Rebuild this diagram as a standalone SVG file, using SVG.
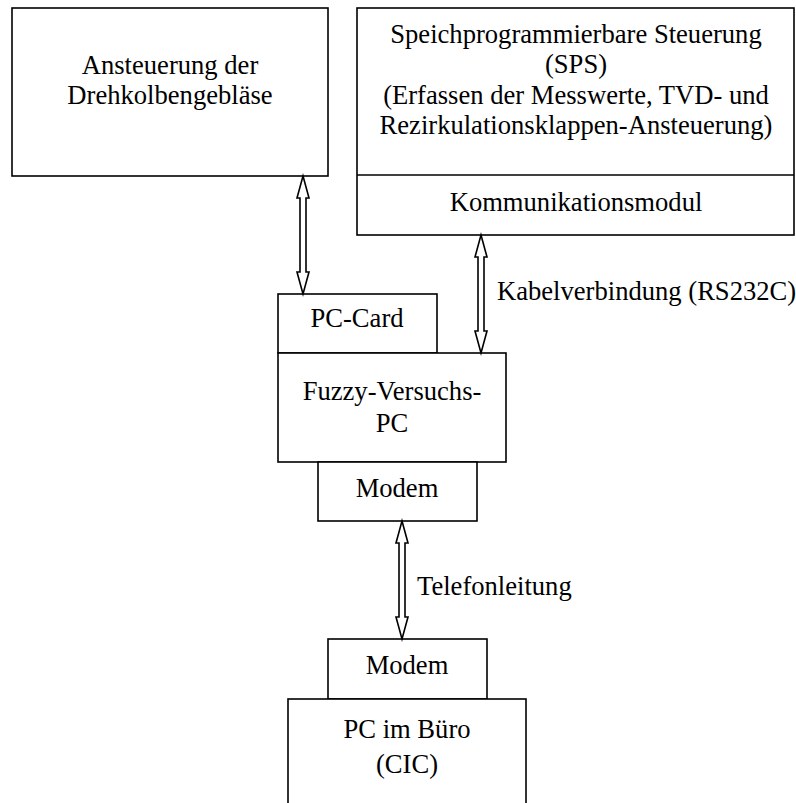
<svg xmlns="http://www.w3.org/2000/svg" width="796" height="803" viewBox="0 0 796 803">
<style>
.box{fill:#fff;stroke:#000;stroke-width:1.6}
.t{font-family:"Liberation Serif","Times New Roman",serif;font-size:26.6px;fill:#000;text-anchor:middle}
.tl{font-family:"Liberation Serif","Times New Roman",serif;font-size:26.6px;fill:#000;text-anchor:start}
.arr{fill:#fff;stroke:#000;stroke-width:1.6;stroke-linejoin:miter}
</style>
<rect width="796" height="803" fill="#fff"/>
<g id="ansteuerung">
<rect class="box" x="12" y="8" width="316" height="168"/>
<text class="t" x="170" y="74">Ansteuerung der</text>
<text class="t" x="170" y="104">Drehkolbengebläse</text>
</g>
<g id="sps">
<rect class="box" x="357" y="8" width="437" height="227"/>
<line x1="357" y1="175" x2="794" y2="175" stroke="#000" stroke-width="1.6"/>
<text class="t" x="576" y="43">Speichprogrammierbare Steuerung</text>
<text class="t" x="576" y="73">(SPS)</text>
<text class="t" x="576" y="104">(Erfassen der Messwerte, TVD- und</text>
<text class="t" x="576" y="134">Rezirkulationsklappen-Ansteuerung)</text>
<text class="t" x="576" y="211">Kommunikationsmodul</text>
</g>
<g id="fuzzy-pc">
<rect class="box" x="278" y="294" width="159" height="59"/>
<text class="t" x="357" y="327">PC-Card</text>
<rect class="box" x="278" y="353" width="228" height="109"/>
<text class="t" x="392" y="400">Fuzzy-Versuchs-</text>
<text class="t" x="392" y="432">PC</text>
<rect class="box" x="318" y="462" width="159" height="59"/>
<text class="t" x="397" y="497">Modem</text>
</g>
<g id="buero-pc">
<rect class="box" x="328" y="639" width="159" height="60"/>
<text class="t" x="407" y="674">Modem</text>
<rect class="box" x="288" y="699" width="238" height="120"/>
<text class="t" x="407" y="738">PC im Büro</text>
<text class="t" x="407" y="773">(CIC)</text>
</g>
<g id="connectors">
<path class="arr" d="M303,176 L309,198 L306,198 L306,272 L309,272 L303,294 L297,272 L300,272 L300,198 L297,198 Z"/>
<path class="arr" d="M481,235 L487,257 L484,257 L484,331 L487,331 L481,353 L475,331 L478,331 L478,257 L475,257 Z"/>
<text class="tl" x="497" y="300">Kabelverbindung (RS232C)</text>
<path class="arr" d="M402,521 L408,543 L405,543 L405,617 L408,617 L402,639 L396,617 L399,617 L399,543 L396,543 Z"/>
<text class="tl" x="417" y="595">Telefonleitung</text>
</g>
</svg>
